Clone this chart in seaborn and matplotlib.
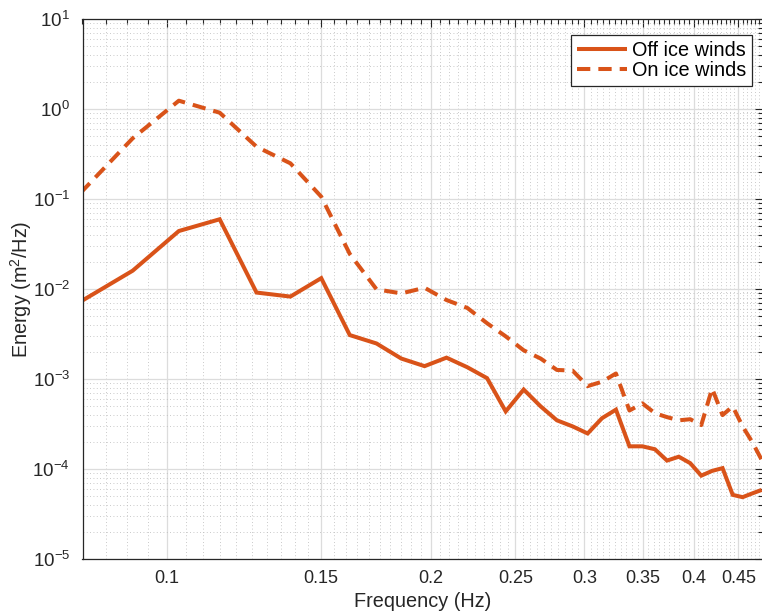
import matplotlib
matplotlib.use("Agg")
import matplotlib.pyplot as plt
import matplotlib.ticker as mticker
import seaborn as sns
import pandas as pd

# ---- data ----
freq = [0.0796, 0.0913, 0.1031, 0.1148, 0.1265, 0.1383, 0.1500, 0.1617, 0.1735,
        0.1852, 0.1969, 0.2086, 0.2204, 0.2321, 0.2438, 0.2556, 0.2673, 0.2790,
        0.2907, 0.3025, 0.3142, 0.3259, 0.3377, 0.3494, 0.3611, 0.3728, 0.3846,
        0.3963, 0.4080, 0.4198, 0.4315, 0.4432, 0.4549, 0.4667, 0.4784]
off_ice = [0.0073, 0.0161, 0.0444, 0.060, 0.0092, 0.0083, 0.0133, 0.0031, 0.0025,
           0.0017, 0.0014, 0.00174, 0.00136, 0.00103, 0.00044, 0.00077, 0.0005,
           0.00035, 0.0003, 0.00025, 0.00037, 0.00046, 0.00018, 0.00018, 0.000167,
           0.000125, 0.000138, 0.000117, 0.000085, 0.000096, 0.000103, 0.000052,
           0.000049, 0.000054, 0.000059]
on_ice = [0.118, 0.476, 1.246, 0.917, 0.384, 0.251, 0.107, 0.0247, 0.0100, 0.0090,
          0.0104, 0.0076, 0.0062, 0.0042, 0.0030, 0.0021, 0.0017, 0.00127, 0.00125,
          0.00084, 0.00094, 0.00116, 0.00045, 0.00054, 0.00042, 0.00038, 0.00035,
          0.00036, 0.00031, 0.00079, 0.0004, 0.0005, 0.0003, 0.0002, 0.000127]
series_names = ["Off ice winds", "On ice winds"]
xtick_vals = [0.1, 0.15, 0.2, 0.25, 0.3, 0.35, 0.4, 0.45]
xtick_labels = ["0.1", "0.15", "0.2", "0.25", "0.3", "0.35", "0.4", "0.45"]
x_label = "Frequency (Hz)"
y_label = "Energy (m$^2$/Hz)"

df = pd.concat([
    pd.DataFrame({"freq": freq, "energy": off_ice, "series": series_names[0]}),
    pd.DataFrame({"freq": freq, "energy": on_ice, "series": series_names[1]}),
])

sns.set_style("white")
plt.rcParams["font.family"] = ["Liberation Sans", "DejaVu Sans"]
plt.rcParams["mathtext.fontset"] = "custom"
plt.rcParams["mathtext.rm"] = "Liberation Sans"
plt.rcParams["mathtext.it"] = "Liberation Sans:italic"
plt.rcParams["mathtext.bf"] = "Liberation Sans:bold"

color = "#D95319"
axcol = "#262626"

fig = plt.figure(figsize=(7.62, 6.12), dpi=100)
W, H = 762, 612
left, right, top, bottom = 82.5, 763.0, 19.3, 559.3
ax = fig.add_axes([left / W, 1 - bottom / H, (right - left) / W, (bottom - top) / H])
ax.set_xscale("log")
ax.set_yscale("log")

dash_map = {series_names[0]: "", series_names[1]: (3.3, 2.0)}
for name in series_names:
    sub = df[df["series"] == name]
    sns.lineplot(data=sub, x="freq", y="energy", ax=ax, color=color,
                 linewidth=2.9, estimator=None, sort=False, label=name,
                 dashes=False)
lines = ax.get_lines()
lines[1].set_dashes(dash_map[series_names[1]])
for ln in lines:
    ln.set_solid_capstyle("butt")
    ln.set_dash_capstyle("butt")
    ln.set_solid_joinstyle("miter")

ax.set_xlim(0.08, 0.48)
ax.set_ylim(1e-5, 1e1)

# ticks
ax.xaxis.set_major_locator(mticker.FixedLocator(xtick_vals))
ax.xaxis.set_major_formatter(mticker.FixedFormatter(xtick_labels))
ax.xaxis.set_minor_locator(mticker.MultipleLocator(0.005))
ax.xaxis.set_minor_formatter(mticker.NullFormatter())
ax.yaxis.set_major_locator(mticker.LogLocator(base=10, numticks=20))
ax.yaxis.set_minor_locator(mticker.LogLocator(base=10, subs=range(2, 10), numticks=20))
ax.yaxis.set_major_formatter(mticker.LogFormatterMathtext())
ax.yaxis.set_minor_formatter(mticker.NullFormatter())

ax.tick_params(which="both", direction="in", top=True, right=True,
               color=axcol, labelcolor=axcol, labelsize=13, width=0.8)
ax.tick_params(which="major", length=5.5)
ax.tick_params(which="minor", length=3.5)
ax.tick_params(axis="x", which="major", pad=8)
ax.tick_params(axis="y", which="major", pad=9, labelsize=13.5)

# grid
ax.grid(True, which="major", color="#dcdcdc", linewidth=0.9, linestyle="-")
ax.grid(True, which="minor", color="#b8b8b8", linewidth=0.6, linestyle=(0, (1, 3)))
ax.set_axisbelow(True)

for s in ax.spines.values():
    s.set_color(axcol)
    s.set_linewidth(0.9)

ax.set_xlabel(x_label, fontsize=14.3, color=axcol, labelpad=3)
ax.set_ylabel(y_label, fontsize=14.3, color=axcol, labelpad=-1)

leg = ax.legend(loc="upper right", bbox_to_anchor=(752 / W, 1 - 35 / H),
                bbox_transform=fig.transFigure, borderaxespad=0, fontsize=14.3,
                frameon=True, fancybox=False, edgecolor=axcol, framealpha=1,
                handlelength=2.5, handletextpad=0.25, labelspacing=0.05,
                borderpad=0.3)
leg.get_frame().set_linewidth(0.9)
for t in leg.get_texts():
    t.set_color("black")

fig.savefig("out.png", dpi=100)
